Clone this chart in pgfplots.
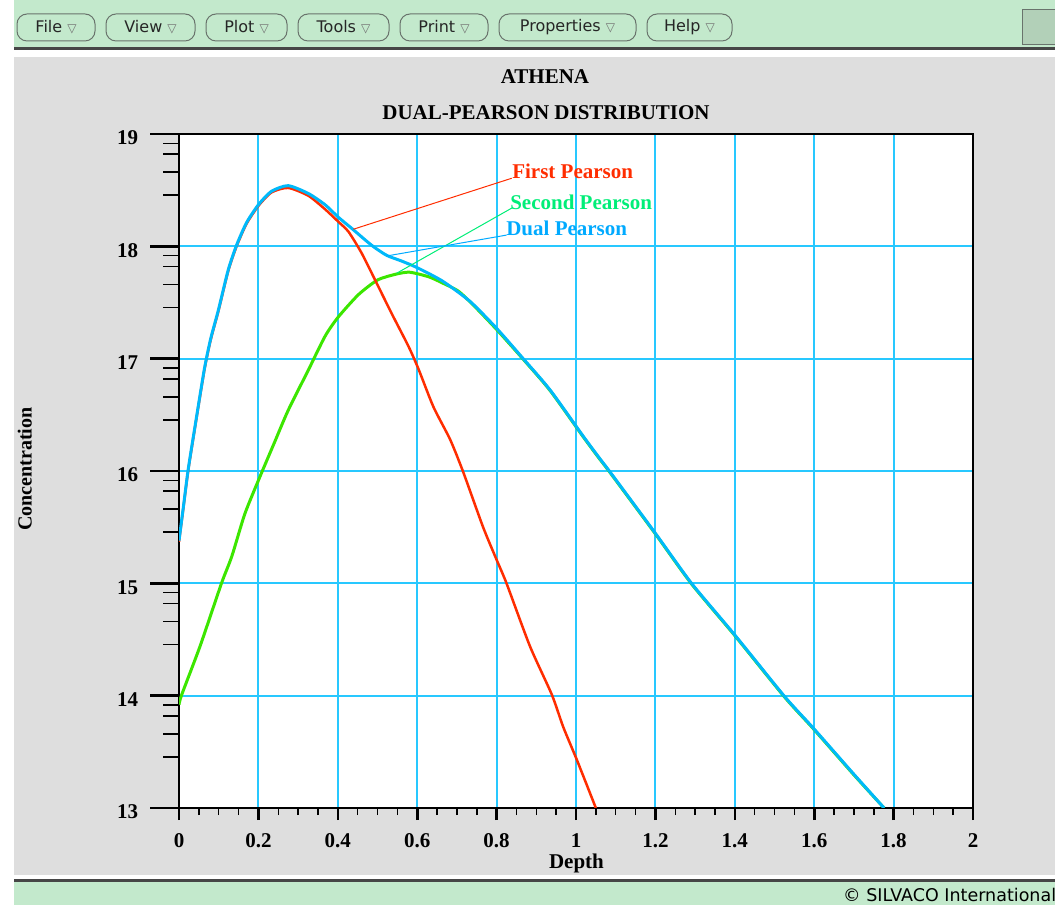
\documentclass[border=0pt]{standalone}
\usepackage{pgfplots}
\pgfplotsset{compat=1.18}
\usepackage{fontspec}
\setmainfont{Liberation Serif}
\newfontfamily\uifont{DejaVu Sans}
\definecolor{menugreen}{RGB}{195,233,204}
\definecolor{panelgray}{RGB}{222,222,222}
\definecolor{darkline}{RGB}{70,70,70}
\definecolor{btnborder}{RGB}{105,115,108}
\definecolor{boxgreen}{RGB}{178,208,184}
\definecolor{gridcyan}{RGB}{40,200,255}
\definecolor{dualblue}{RGB}{0,185,250}
\definecolor{firstred}{RGB}{255,45,0}
\definecolor{secondgreen}{RGB}{60,230,0}
\definecolor{secondtext}{RGB}{0,238,120}
\definecolor{dualtext}{RGB}{0,170,255}
\begin{document}
\begin{tikzpicture}[x=1pt,y=1pt]
\useasboundingbox (0,0) rectangle (1055,905);
\clip (0,0) rectangle (1055,905);
\fill[white] (0,0) rectangle (1055,905);
% window frame
\fill[menugreen] (14,857) rectangle (1055,905);
\fill[darkline] (14,855) rectangle (1055,857.5);
\fill[panelgray] (14,30) rectangle (1055,848);
\fill[darkline] (14,23) rectangle (1055,25.5);
\fill[menugreen] (14,0) rectangle (1055,23);
\filldraw[fill=boxgreen, draw=btnborder, line width=1pt] (1022,860) rectangle (1060,895);
\foreach \a/\b/\lbl in {17/95/File,106/195/View,206/287/Plot,298/389/Tools,400/488/Print,499/636/Properties,647/732/Help}{
  \filldraw[fill=menugreen, draw=btnborder, line width=1pt, rounded corners=10pt] (\a,864) rectangle (\b,891);
  \node[font=\uifont\fontsize{16}{19}\selectfont, text=black!85, inner sep=0pt] at ({(\a+\b)/2},877.5) {\lbl\ {\fontsize{12}{14}\selectfont\color{black!55}▽}};
}
\node[anchor=west, font=\uifont\fontsize{17.5}{20}\selectfont, inner sep=0pt] at (843,10) {© SILVACO International};
\begin{axis}[
  at={(179pt,97pt)}, anchor=south west,
  width=794pt, height=674pt, scale only axis,
  xmin=0, xmax=2, ymin=13, ymax=19,
  axis background/.style={fill=white},
  axis line style={line width=1.5pt, black},
  xtick={0,0.2,0.4,0.6,0.8,1,1.2,1.4,1.6,1.8,2},
  xticklabels={0,0.2,0.4,0.6,0.8,1,1.2,1.4,1.6,1.8,2},
  minor x tick num=3,
  ytick={13,14,15,16,17,18,19},
  yticklabels={13,14,15,16,17,18,19},
  minor ytick={13.455,13.66,13.82,13.917,14.455,14.66,14.82,14.917,15.455,15.66,15.82,15.917,16.455,16.66,16.82,16.917,17.455,17.66,17.82,17.917,18.455,18.66,18.82,18.917},
  tick align=outside, tick pos=left,
  major x tick style={/pgfplots/major tick length=12pt, line width=2.6pt, black},
  minor x tick style={/pgfplots/minor tick length=7pt, line width=1.5pt, black},
  major y tick style={/pgfplots/major tick length=29pt, line width=2.6pt, black},
  minor y tick style={/pgfplots/minor tick length=16pt, line width=1.5pt, black},
  grid=major,
  major grid style={line width=2pt, gridcyan},
  ticklabel style={font=\fontsize{21}{24}\selectfont\bfseries, inner sep=0pt},
  xticklabel style={anchor=base, yshift=-35pt},
  yticklabel style={anchor=east, xshift=-36.5pt, yshift=-4pt},
  /pgf/number format/assume math mode=true,
]
% Second Pearson
\addplot[secondgreen, line width=3pt, smooth, tension=0.4] coordinates {
(0.000,13.92) (0.007,14.01) (0.053,14.44) (0.107,15.00) (0.133,15.24) (0.166,15.62)
(0.204,15.95) (0.240,16.25) (0.275,16.54) (0.326,16.90) (0.368,17.20) (0.401,17.37)
(0.452,17.57) (0.500,17.70) (0.544,17.75) (0.580,17.77) (0.628,17.73) (0.660,17.68)
(0.704,17.60) (0.746,17.46) (0.800,17.26) (0.867,16.995) (0.935,16.715) (1.018,16.305)
(1.060,16.105) (1.086,15.985) (1.199,15.445) (1.291,14.995) (1.400,14.535) (1.526,13.985) (1.598,13.705)
(1.700,13.295) (1.776,13.00)
};
% First Pearson
\addplot[firstred, line width=2.5pt, smooth, tension=0.4] coordinates {
(0.000,15.37) (0.011,15.67) (0.023,16.00) (0.040,16.38) (0.064,16.90) (0.080,17.17)
(0.099,17.42) (0.124,17.78) (0.145,18.00) (0.170,18.20) (0.200,18.36) (0.233,18.48)
(0.275,18.52) (0.326,18.45) (0.368,18.33) (0.401,18.22) (0.427,18.13) (0.460,17.94)
(0.494,17.70) (0.536,17.40) (0.578,17.11) (0.603,16.91) (0.641,16.57) (0.683,16.28)
(0.716,15.99) (0.766,15.50) (0.800,15.21) (0.825,15.00) (0.884,14.44) (0.939,14.01)
(0.968,13.72) (1.002,13.43) (1.050,13.00)
};
% Dual Pearson
\addplot[dualblue, line width=3pt, smooth, tension=0.4] coordinates {
(0.000,15.38) (0.011,15.68) (0.023,16.01) (0.040,16.39) (0.064,16.91) (0.080,17.18)
(0.099,17.43) (0.124,17.79) (0.145,18.01) (0.170,18.21) (0.200,18.37) (0.233,18.49)
(0.275,18.54) (0.326,18.47) (0.368,18.37) (0.401,18.26) (0.435,18.16) (0.485,18.01)
(0.523,17.92) (0.560,17.87) (0.600,17.81) (0.664,17.69) (0.733,17.51) (0.800,17.27)
(0.867,17.00) (0.935,16.72) (1.018,16.31) (1.060,16.11) (1.086,15.99) (1.199,15.45)
(1.291,15.00) (1.400,14.54) (1.526,13.99) (1.598,13.71) (1.700,13.30) (1.776,13.00)
};
% leader lines and labels
\draw[firstred, line width=1pt] (axis cs:0.439,18.152) -- (axis cs:0.838,18.606);
\draw[secondtext, line width=1pt] (axis cs:0.548,17.76) -- (axis cs:0.838,18.34);
\draw[dualtext, line width=1pt] (axis cs:0.523,17.914) -- (axis cs:0.825,18.10);
\node[anchor=base west, inner sep=0pt, text=firstred, font=\fontsize{21}{24}\selectfont\bfseries] at (axis cs:0.839,18.608) {First Pearson};
\node[anchor=base west, inner sep=0pt, text=secondtext, font=\fontsize{21}{24}\selectfont\bfseries] at (axis cs:0.834,18.332) {Second Pearson};
\node[anchor=base west, inner sep=0pt, text=dualtext, font=\fontsize{21}{24}\selectfont\bfseries] at (axis cs:0.824,18.092) {Dual Pearson};
\end{axis}
\node[anchor=base, inner sep=0pt, font=\fontsize{21}{24}\selectfont\bfseries] at (545,821) {ATHENA};
\node[anchor=base, inner sep=0pt, font=\fontsize{21}{24}\selectfont\bfseries] at (546,785) {DUAL-PEARSON DISTRIBUTION};
\node[anchor=base, inner sep=0pt, font=\fontsize{21}{24}\selectfont\bfseries] at (576.5,36) {Depth};
\node[rotate=90, inner sep=0pt, font=\fontsize{20}{24}\selectfont\bfseries] at (24.7,436) {Concentration};
\end{tikzpicture}
\end{document}
